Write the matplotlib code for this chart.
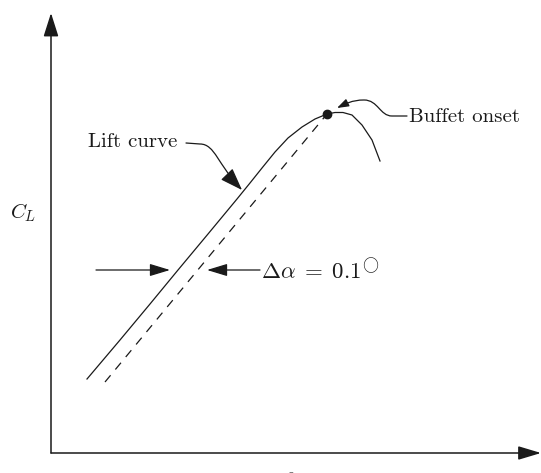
import matplotlib
matplotlib.use("Agg")
import matplotlib.pyplot as plt
from matplotlib.patches import FancyArrowPatch, ArrowStyle
from matplotlib.path import Path

plt.rcParams['mathtext.fontset'] = 'cm'

# lift curve (schematic units: alpha right, C_L up)
lift_alpha = [36, 69, 99, 127, 157, 186, 199, 211, 224, 237, 251, 264, 276,
              284, 292, 301, 311, 321, 329]
lift_cl = [74, 113, 149, 183, 219, 254, 270, 285, 301, 315, 326, 334, 339,
           340.5, 340.5, 338, 328, 313, 292]

# shifted (dashed) line, ends
shift_alpha = [54, 276]
shift_cl = [71, 339]

# buffet onset point
onset_alpha = 276
onset_cl = 339

# level of the delta-alpha arrows
delta_cl = 183
delta_text = r'$\Delta\alpha\;=\;0.1^{\!\bigcirc}$'

ink = '#1a1a1a'
serif = 'cmr10'

fig = plt.figure(figsize=(5.41, 4.73), dpi=100)
ax = fig.add_axes([0, 0, 1, 1])
ax.set_xlim(-51, 490)
ax.set_ylim(-20, 453)
ax.axis('off')


def arrow(posA=None, posB=None, path=None, hl=12.5, hw=3.8, lw=0.9):
    style = ArrowStyle('-|>', head_length=hl, head_width=hw)
    if path is not None:
        p = FancyArrowPatch(path=path, arrowstyle=style, mutation_scale=1,
                            color=ink, lw=lw, transform=ax.transData)
    else:
        p = FancyArrowPatch(posA, posB, arrowstyle=style, mutation_scale=1,
                            color=ink, lw=lw, shrinkA=0, shrinkB=0)
    ax.add_patch(p)


# axes with arrow heads
arrow((0, 0), (0, 440), hl=14.5, hw=4.6, lw=1.1)
arrow((0, 0), (490, 0), hl=14.0, hw=4.2, lw=1.1)

# curves
ax.plot(lift_alpha, lift_cl, color=ink, lw=0.9, solid_joinstyle='round')
ax.plot(shift_alpha, shift_cl, color=ink, lw=0.9, linestyle=(0, (7, 6)))
ax.plot([onset_alpha], [onset_cl], 'o', color=ink, ms=6)

# delta alpha arrows
arrow((45, delta_cl), (119, delta_cl), hl=12.5, hw=3.8)
arrow((209, delta_cl), (156, delta_cl), hl=12.5, hw=3.8)
ax.text(210, 174, delta_text, fontsize=16.5, color=ink, ha='left', va='baseline')

# "Lift curve" label and its arrow
ax.text(126, 306, 'Lift curve', fontsize=15, fontfamily=serif, color=ink,
        ha='right', va='baseline')
lift_path = Path([(135, 310), (149, 309), (164, 309), (167, 288), (191, 263)],
                 [Path.MOVETO, Path.LINETO, Path.CURVE4, Path.CURVE4, Path.CURVE4])
arrow(path=lift_path, hl=14.0, hw=5.0)

# "Buffet onset" label and its arrow
ax.text(358, 331, 'Buffet onset', fontsize=15, fontfamily=serif, color=ink,
        ha='left', va='baseline')
buffet_path = Path([(356, 337), (341, 337), (329, 337), (327, 353), (313, 353),
                    (301, 353), (294, 349), (286, 345)],
                   [Path.MOVETO, Path.LINETO, Path.CURVE4, Path.CURVE4, Path.CURVE4,
                    Path.CURVE4, Path.CURVE4, Path.CURVE4])
arrow(path=buffet_path, hl=7.0, hw=2.4)

# axis labels
ax.text(-41, 235, r'$C_L$', fontsize=15, color=ink, ha='left', va='baseline')
ax.text(240, -13, r'$\alpha$', fontsize=15, color=ink, ha='center', va='top')

fig.savefig('out.png', dpi=100)
